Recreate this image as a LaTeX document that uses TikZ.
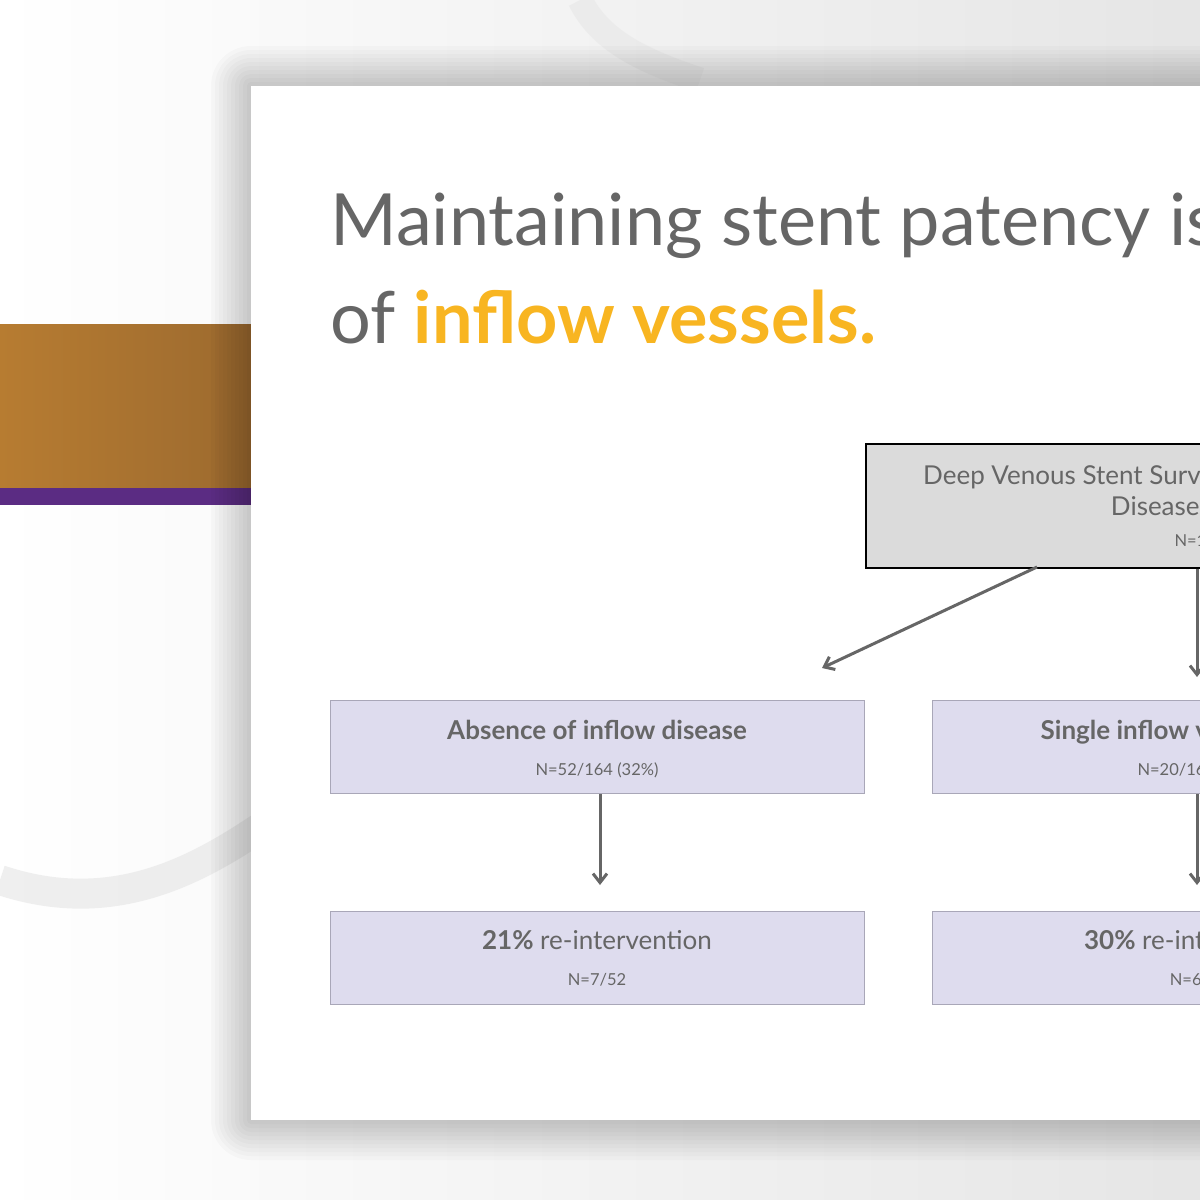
\documentclass[tikz,border=0pt]{standalone}
\usepackage{fontspec}
\setmainfont{Lato}
\usetikzlibrary{arrows.meta}
\definecolor{txt}{HTML}{666666}
\definecolor{gold}{HTML}{F8B521}
\definecolor{lav}{HTML}{DEDCEE}
\definecolor{lavb}{HTML}{A9A7B8}
\definecolor{orng}{HTML}{B77C31}
\definecolor{orngd}{HTML}{9C6A2F}
\definecolor{purp}{HTML}{5B2C83}
\tikzset{
  box/.style={draw=lavb,fill=lav,line width=1.2pt,minimum width=534pt,minimum height=93pt,inner sep=0pt},
  arr/.style={draw=txt,line width=3pt,-{Straight Barb[length=9pt,width=14pt]}},
  big/.style={font=\fontsize{26}{30}\selectfont,text=txt},
  small/.style={font=\fontsize{16.5}{19}\selectfont,text=txt}
}
\begin{document}
\begin{tikzpicture}[x=1pt,y=-1pt]
\useasboundingbox (0,0) rectangle (1200,1200);
\clip (0,0) rectangle (1200,1200);
\fill[left color=white,right color=black!10] (0,0) rectangle (1200,1200);
\draw[black!12,line width=30pt,opacity=0.5] (0,880) .. controls (150,930) and (250,830) .. (330,780);
\draw[black!10,line width=25pt,opacity=0.5] (580,0) .. controls (600,40) and (640,60) .. (700,80);
\fill[left color=orng,right color=orngd] (0,324) rectangle (251,488);
\fill[purp] (0,488) rectangle (251,505);
\foreach \r in {40,36,...,4}{
  \fill[black,opacity=0.018,rounded corners=\r pt] (251-\r,86-\r) rectangle (1300,1120+\r);
}
\node[fill=white,minimum width=1000pt,minimum height=1034pt,inner sep=0pt,anchor=north west] (card) at (251,86) {};
\node[anchor=base west,inner sep=0pt,text=txt,font=\fontsize{72}{78}\selectfont] (t1) at (330,245) {Maintaining stent patency is dependent};
\node[anchor=base west,inner sep=0pt,text=txt,font=\fontsize{72}{78}\selectfont] (t2) at (330,343) {of \textcolor{gold}{\bfseries inflow vessels.}};
\node[draw=black,fill=black!14,line width=1.5pt,minimum width=670pt,minimum height=124pt,anchor=north west,inner sep=0pt] (top) at (865,443) {};
\node[big,anchor=base] (tl1) at (1200,484) {Deep Venous Stent Surveillance by Inflow Vessel};
\node[big,anchor=base] (tl2) at (1200,515) {Disease Burden};
\node[small,anchor=base] (tl3) at (1200,546) {N=164};
\node[box,anchor=north west] (b1) at (330,700) {};
\node[box,anchor=north west] (b2) at (932,700) {};
\node[box,anchor=north west] (b3) at (330,911) {};
\node[box,anchor=north west] (b4) at (932,911) {};
\node[big,anchor=base] (l1) at (597,739) {\bfseries Absence of inflow disease};
\node[small,anchor=base] (s1) at (597,775) {N=52/164 (32\%)};
\node[big,anchor=base] (l2) at (1199,739) {\bfseries Single inflow vessel disease};
\node[small,anchor=base] (s2) at (1199,775) {N=20/164 (12\%)};
\node[big,anchor=base] (l3) at (597,949) {\textbf{21\%} re-intervention};
\node[small,anchor=base] (s3) at (597,985) {N=7/52};
\node[big,anchor=base] (l4) at (1199,949) {\textbf{30\%} re-intervention};
\node[small,anchor=base] (s4) at (1199,985) {N=6/20};
\coordinate (a1s) at (1037,567); \coordinate (a1e) at (822,668);
\draw[arr] (a1s) -- (a1e);
\draw[arr] (top.south -| 1197,0) -- (1197,677);
\draw[arr] (b1.south -| 600,0) -- (600,885);
\draw[arr] (b2.south -| 1197,0) -- (1197,885);
\end{tikzpicture}
\end{document}
